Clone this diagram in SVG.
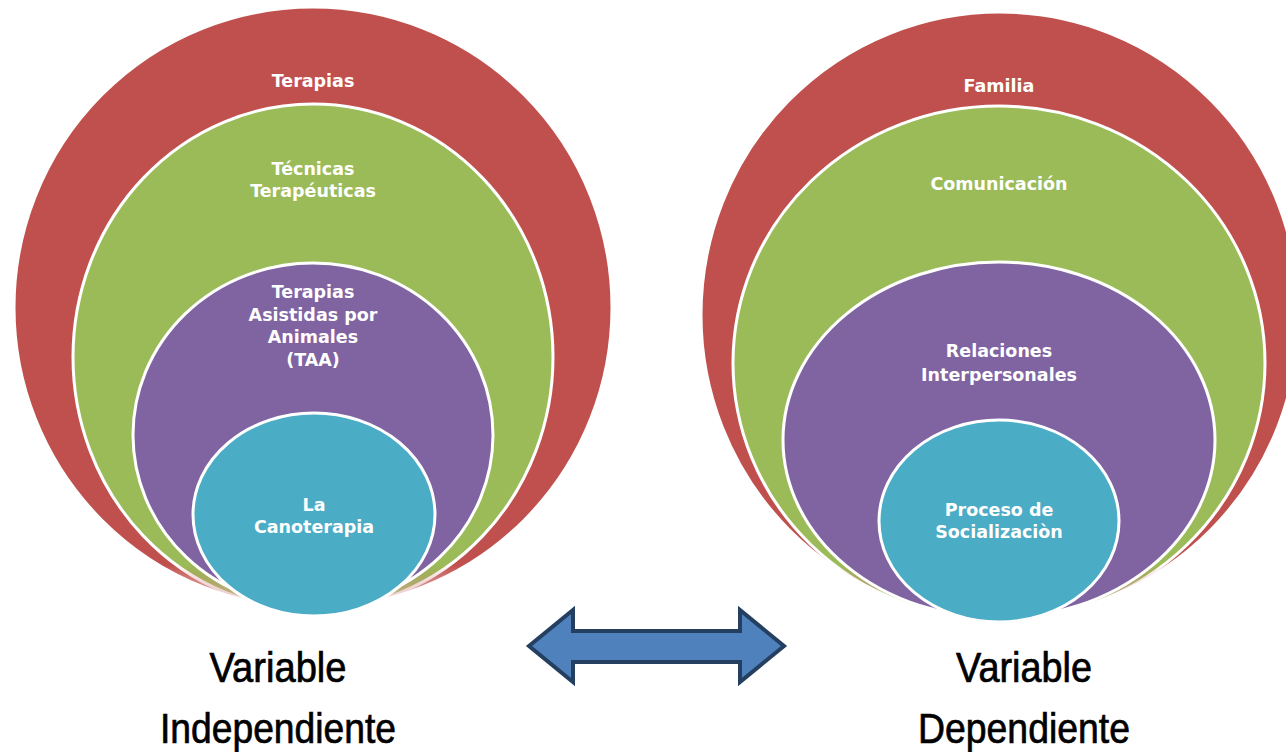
<svg xmlns="http://www.w3.org/2000/svg" width="1286" height="752" viewBox="0 0 1286 752">
<style>
.ring{stroke:#FFFFFF;stroke-width:3}
.red{fill:#C0504D}
.green{fill:#9BBB59}
.purple{fill:#8064A2}
.teal{fill:#4BACC6}
.lbl{font-family:"DejaVu Sans","Liberation Sans",sans-serif;font-weight:700;font-size:17.5px;fill:#FFFFFF;text-anchor:middle}
.var{font-family:"Liberation Sans",Arial,sans-serif;font-size:42px;fill:#000000;stroke:#000000;stroke-width:0.7;text-anchor:middle}
</style>
<defs>
<linearGradient id="fadeV" x1="0" y1="0" x2="0" y2="1">
<stop offset="0" stop-color="#fff"/>
<stop offset="1" stop-color="#fff" stop-opacity="0.1"/>
</linearGradient>
<mask id="fade" maskUnits="userSpaceOnUse" x="0" y="0" width="1286" height="752">
<rect x="0" y="0" width="1286" height="565" fill="#fff"/>
<rect x="0" y="565" width="1286" height="50" fill="url(#fadeV)"/>
</mask>
</defs>
<g id="left">
<g id="terapias">
<ellipse class="ring red" cx="313" cy="307.5" rx="299" ry="300.5" mask="url(#fade)"/>
<text class="lbl" x="313" y="87">Terapias</text>
</g>
<g id="tecnicas">
<ellipse class="ring green" cx="313" cy="357" rx="240" ry="253" mask="url(#fade)"/>
<text class="lbl" x="313" y="175">Técnicas<tspan x="313" dy="22">Terapéuticas</tspan></text>
</g>
<g id="taa">
<ellipse class="ring purple" cx="313" cy="435" rx="180" ry="172"/>
<text class="lbl" x="313" y="298">Terapias<tspan x="313" dy="22.5">Asistidas por</tspan><tspan x="313" dy="22.5">Animales</tspan><tspan x="313" dy="22.5">(TAA)</tspan></text>
</g>
<g id="canoterapia">
<ellipse class="ring teal" cx="314" cy="514.5" rx="121" ry="101.5"/>
<text class="lbl" x="314" y="511">La<tspan x="314" dy="22">Canoterapia</tspan></text>
</g>
</g>
<g id="right">
<g id="familia">
<ellipse class="ring red" cx="1000" cy="315" rx="299" ry="303" mask="url(#fade)"/>
<text class="lbl" x="999" y="92">Familia</text>
</g>
<g id="comunicacion">
<ellipse class="ring green" cx="999" cy="363" rx="266" ry="257" mask="url(#fade)"/>
<text class="lbl" x="999" y="190">Comunicación</text>
</g>
<g id="relaciones">
<ellipse class="ring purple" cx="999" cy="440" rx="216" ry="178"/>
<text class="lbl" x="999" y="357">Relaciones<tspan x="999" dy="24">Interpersonales</tspan></text>
</g>
<g id="socializacion">
<ellipse class="ring teal" cx="999" cy="521" rx="120" ry="101"/>
<text class="lbl" x="999" y="516">Proceso de<tspan x="999" dy="22">Socializaciòn</tspan></text>
</g>
</g>
<g id="connectors">
<path d="M529,646 L573,610 L573,631 L740,631 L740,610 L784,646 L740,682 L740,662 L573,662 L573,682 Z" fill="#4F81BD" stroke="#243F60" stroke-width="4" stroke-linejoin="miter"/>
</g>
<g id="labels">
<text class="var" x="278" y="682" textLength="137" lengthAdjust="spacingAndGlyphs">Variable</text>
<text class="var" x="278" y="743" textLength="236" lengthAdjust="spacingAndGlyphs">Independiente</text>
<text class="var" x="1024" y="682" textLength="136" lengthAdjust="spacingAndGlyphs">Variable</text>
<text class="var" x="1024" y="743" textLength="212" lengthAdjust="spacingAndGlyphs">Dependiente</text>
</g>
</svg>
